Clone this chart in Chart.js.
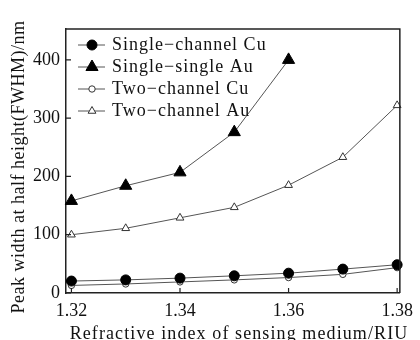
<!DOCTYPE html>
<html>
<head>
<meta charset="utf-8">
<script src="https://cdn.jsdelivr.net/npm/chart.js@4.4.1/dist/chart.umd.min.js"></script>
<style>
  html, body { margin: 0; padding: 0; background: #fff; }
</style>
</head>
<body>
<canvas id="fwhmChart" width="420" height="340"></canvas>
<script>
'use strict';

// refractive index of the sensing medium (RIU)
let indexValues = [1.32, 1.33, 1.34, 1.35, 1.36, 1.37, 1.38];
// FWHM in nm
let singleCu = [20.5, 22.5, 25.5, 29.5, 34, 41, 48.5];
let singleAu = [158, 184, 207, 276, 400];
let twoCu = [13, 15.5, 19, 22.5, 26.5, 32, 43.5];
let twoAu = [100, 111, 129, 147, 185, 233, 322];
let seriesNames = ['Single\u2212channel Cu', 'Single\u2212single Au', 'Two\u2212channel Cu', 'Two\u2212channel Au'];
let xTicks = [1.32, 1.34, 1.36, 1.38];
let yTicks = [0, 100, 200, 300, 400];
let xTitle = 'Refractive index of sensing medium/RIU';
let yTitle = 'Peak width at half height(FWHM)/nm';

const serif = '"Liberation Serif", "Times New Roman", serif';
const lineGray = '#555';

function toPoints(values) {
    return values.map((v, i) => ({ x: indexValues[i], y: v }));
}

let datasets = [
    { label: seriesNames[0], data: toPoints(singleCu), pointStyle: 'circle', pointRadius: 5,
      pointBackgroundColor: '#000', pointBorderColor: '#000' },
    { label: seriesNames[1], data: toPoints(singleAu), pointStyle: 'triangle', pointRadius: 7,
      pointBackgroundColor: '#000', pointBorderColor: '#000' },
    { label: seriesNames[2], data: toPoints(twoCu), pointStyle: 'circle', pointRadius: 3.2,
      pointBackgroundColor: '#fff', pointBorderColor: '#333' },
    { label: seriesNames[3], data: toPoints(twoAu), pointStyle: 'triangle', pointRadius: 4.5,
      pointBackgroundColor: '#fff', pointBorderColor: '#333' }
];
datasets.forEach(ds => {
    ds.borderColor = lineGray;
    ds.borderWidth = 1;
    ds.pointBorderWidth = 1;
    ds.fill = false;
    ds.tension = 0;
    ds.clip = false;
});

// inward tick marks, the closed frame and the two axis titles
const frameTicks = {
    id: 'frameTicks',
    afterDraw(chart) {
        const ctx = chart.ctx;
        const a = chart.chartArea;
        const xs = chart.scales.x, ys = chart.scales.y;
        ctx.save();
        ctx.strokeStyle = '#222';
        ctx.lineWidth = 1.5;
        ctx.beginPath();
        ctx.moveTo(a.left, a.top);
        ctx.lineTo(a.right, a.top);
        ctx.lineTo(a.right, a.bottom);
        ctx.stroke();
        ctx.lineWidth = 1.2;
        ctx.beginPath();
        xTicks.forEach(v => {
            const px = xs.getPixelForValue(v);
            ctx.moveTo(px, a.bottom);
            ctx.lineTo(px, a.bottom - 5);
        });
        yTicks.forEach(v => {
            const py = ys.getPixelForValue(v);
            ctx.moveTo(a.left, py);
            ctx.lineTo(a.left + 5, py);
        });
        ctx.stroke();

        ctx.fillStyle = '#111';
        ctx.font = '18px ' + serif;
        ctx.letterSpacing = '1.1px';
        ctx.textAlign = 'center';
        ctx.textBaseline = 'alphabetic';
        ctx.fillText(xTitle, 239, 339);
        ctx.translate(24, 167);
        ctx.rotate(-Math.PI / 2);
        ctx.letterSpacing = '0.5px';
        ctx.fillText(yTitle, 0, 0);
        ctx.restore();
    }
};

// legend drawn inside the plot: short line with the marker on it
const innerLegend = {
    id: 'innerLegend',
    afterDatasetsDraw(chart) {
        const ctx = chart.ctx;
        ctx.save();
        ctx.font = '18px ' + serif;
        ctx.textBaseline = 'middle';
        ctx.letterSpacing = '1px';
        chart.data.datasets.forEach((ds, i) => {
            const y = 45 + i * 22;
            ctx.strokeStyle = lineGray;
            ctx.lineWidth = 1;
            ctx.beginPath();
            ctx.moveTo(78, y);
            ctx.lineTo(105, y);
            ctx.stroke();
            ctx.fillStyle = ds.pointBackgroundColor;
            ctx.strokeStyle = ds.pointBorderColor;
            Chart.helpers.drawPoint(ctx, {
                pointStyle: ds.pointStyle,
                radius: ds.pointRadius,
                borderWidth: 1,
                rotation: 0
            }, 92, y);
            ctx.fillStyle = '#111';
            ctx.fillText(ds.label, 112, y);
        });
        ctx.restore();
    }
};

new Chart(document.querySelector('#fwhmChart'), {
    type: 'line',
    data: { datasets: datasets },
    options: {
        responsive: false,
        animation: false,
        layout: { padding: { top: 29, right: 14, left: 0, bottom: 0 } },
        plugins: { legend: { display: false }, tooltip: { enabled: false } },
        scales: {
            x: {
                type: 'linear',
                min: 1.319,
                max: 1.3805,
                afterBuildTicks: s => { s.ticks = xTicks.map(v => ({ value: v })); },
                afterFit: s => { s.height = 47; },
                grid: { display: false, drawTicks: false },
                border: { display: true, color: '#222', width: 1.5 },
                ticks: {
                    autoSkip: false, maxRotation: 0, padding: 7, color: '#111',
                    font: { family: serif, size: 18 },
                    callback: v => v.toFixed(2)
                }
            },
            y: {
                min: 0,
                max: 453,
                afterBuildTicks: s => { s.ticks = yTicks.map(v => ({ value: v })); },
                afterFit: s => { s.width = 66; },
                grid: { display: false, drawTicks: false },
                border: { display: true, color: '#222', width: 1.5 },
                ticks: {
                    padding: 6, color: '#111',
                    font: { family: serif, size: 18 }
                }
            }
        }
    },
    plugins: [frameTicks, innerLegend]
});
</script>
</body>
</html>
